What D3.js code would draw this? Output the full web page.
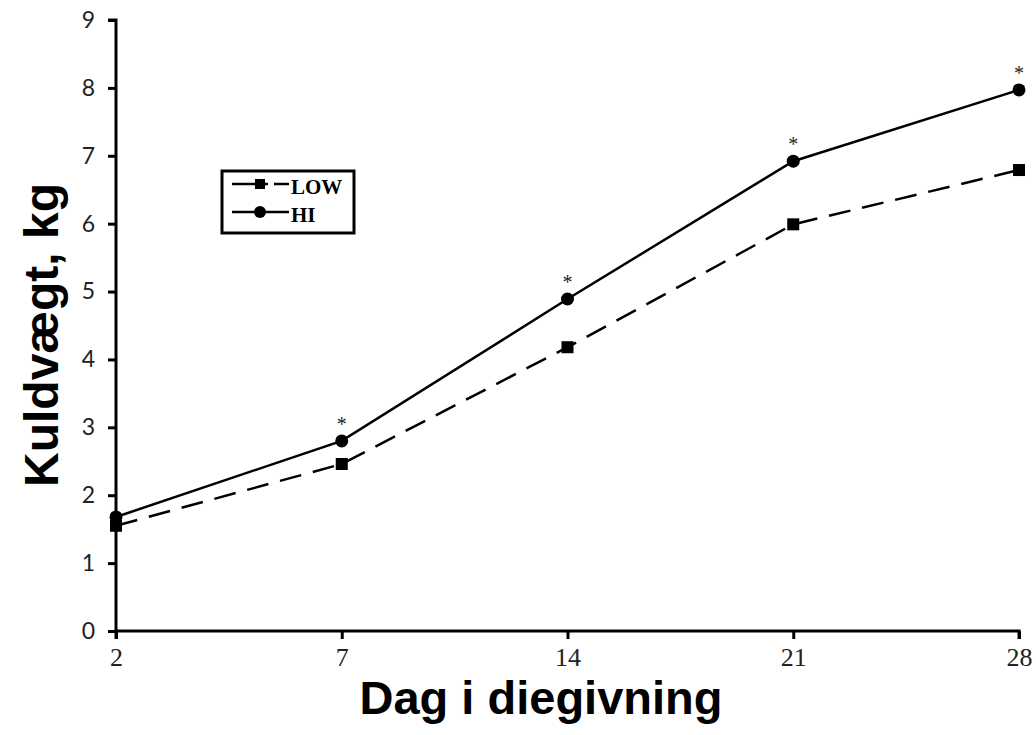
<!DOCTYPE html>
<html>
<head>
    <meta charset="utf-8">
    <title>Kuldvægt</title>
    <style>
        body { margin: 0; background: #fff; }
    </style>
</head>
<body>
    <script src="https://d3js.org/d3.v7.min.js"></script>
    <script>
    // data
    var days = ["2", "7", "14", "21", "28"];
    var low = [1.55, 2.46, 4.18, 5.99, 6.79];
    var hi = [1.68, 2.80, 4.89, 6.92, 7.97];
    var stars = ["", "*", "*", "*", "*"];
    var yTicks = [0, 1, 2, 3, 4, 5, 6, 7, 8, 9];

    const width = 1036;
    const height = 735;
    const plotLeft = 116, plotRight = 1019, plotTop = 20, plotBottom = 631;

    var svg = d3.select("body").append("svg")
        .attr("width", width)
        .attr("height", height);

    var x = d3.scalePoint().domain(days).range([plotLeft, plotRight]);
    var y = d3.scaleLinear().domain([0, 9]).range([plotBottom, plotTop]);

    // axes
    var yAxis = svg.append("g")
        .attr("transform", "translate(" + plotLeft + ",0)")
        .call(d3.axisLeft(y).tickValues(yTicks).tickSize(8).tickPadding(13));
    yAxis.select(".domain").attr("stroke-width", 3)
        .attr("d", "M-8," + plotTop + "H0V" + (plotBottom + 8));
    yAxis.selectAll(".tick line").attr("stroke-width", 3);
    yAxis.selectAll(".tick text")
        .style("font-family", "Lato, sans-serif")
        .style("font-size", "23px")
        .attr("fill", "#222");

    var xAxis = svg.append("g")
        .attr("transform", "translate(0," + plotBottom + ")")
        .call(d3.axisBottom(x).tickSize(8).tickPadding(9));
    xAxis.select(".domain").attr("stroke-width", 3)
        .attr("d", "M" + plotLeft + ",0H" + plotRight + "V8");
    xAxis.selectAll(".tick line").attr("stroke-width", 3);
    xAxis.selectAll(".tick text")
        .style("font-family", "'Liberation Serif', serif")
        .style("font-size", "26px")
        .attr("fill", "#222");

    // axis titles
    svg.append("text")
        .attr("x", 541).attr("y", 714)
        .attr("text-anchor", "middle")
        .style("font-family", "'Liberation Sans', Arial, sans-serif")
        .style("font-weight", "bold")
        .style("font-size", "47px")
        .text("Dag i diegivning");

    svg.append("text")
        .attr("transform", "translate(58,335) rotate(-90)")
        .attr("text-anchor", "middle")
        .style("font-family", "'Liberation Sans', Arial, sans-serif")
        .style("font-weight", "bold")
        .style("font-size", "48px")
        .text("Kuldvægt, kg");

    var line = d3.line()
        .x(function(d, i) { return x(days[i]); })
        .y(function(d) { return y(d); });

    // LOW series
    svg.append("path")
        .datum(low)
        .attr("d", line)
        .attr("fill", "none")
        .attr("stroke", "#000")
        .attr("stroke-width", 2.5)
        .attr("stroke-dasharray", "22,12");

    svg.selectAll(".sq")
        .data(low)
        .enter()
        .append("rect")
        .attr("x", function(d, i) { return x(days[i]) - 6; })
        .attr("y", function(d) { return y(d) - 6; })
        .attr("width", 12)
        .attr("height", 12)
        .attr("fill", "#000");

    // HI series
    svg.append("path")
        .datum(hi)
        .attr("d", line)
        .attr("fill", "none")
        .attr("stroke", "#000")
        .attr("stroke-width", 2.5);

    svg.selectAll(".dot")
        .data(hi)
        .enter()
        .append("circle")
        .attr("cx", function(d, i) { return x(days[i]); })
        .attr("cy", function(d) { return y(d); })
        .attr("r", 6.5)
        .attr("fill", "#000");

    svg.selectAll(".star")
        .data(hi)
        .enter()
        .append("text")
        .attr("x", function(d, i) { return x(days[i]); })
        .attr("y", function(d) { return y(d) - 10; })
        .attr("text-anchor", "middle")
        .style("font-family", "'Liberation Serif', serif")
        .style("font-size", "20px")
        .attr("fill", "#222")
        .text(function(d, i) { return stars[i]; });

    // legend
    var lg = svg.append("g");
    lg.append("rect")
        .attr("x", 222).attr("y", 171)
        .attr("width", 132).attr("height", 62)
        .attr("fill", "#fff")
        .attr("stroke", "#000")
        .attr("stroke-width", 3);

    lg.append("line")
        .attr("x1", 232).attr("x2", 289).attr("y1", 184).attr("y2", 184)
        .attr("stroke", "#000").attr("stroke-width", 2.5)
        .attr("stroke-dasharray", "36,6,30");
    lg.append("rect")
        .attr("x", 255).attr("y", 179).attr("width", 10).attr("height", 10)
        .attr("fill", "#000");
    lg.append("text")
        .attr("x", 291).attr("y", 194)
        .style("font-family", "'Liberation Serif', serif")
        .style("font-weight", "bold")
        .style("font-size", "21px")
        .text("LOW");

    lg.append("line")
        .attr("x1", 232).attr("x2", 289).attr("y1", 212).attr("y2", 212)
        .attr("stroke", "#000").attr("stroke-width", 2.5);
    lg.append("circle")
        .attr("cx", 260).attr("cy", 212).attr("r", 6)
        .attr("fill", "#000");
    lg.append("text")
        .attr("x", 291).attr("y", 222)
        .style("font-family", "'Liberation Serif', serif")
        .style("font-weight", "bold")
        .style("font-size", "21px")
        .text("HI");
    </script>
</body>
</html>
